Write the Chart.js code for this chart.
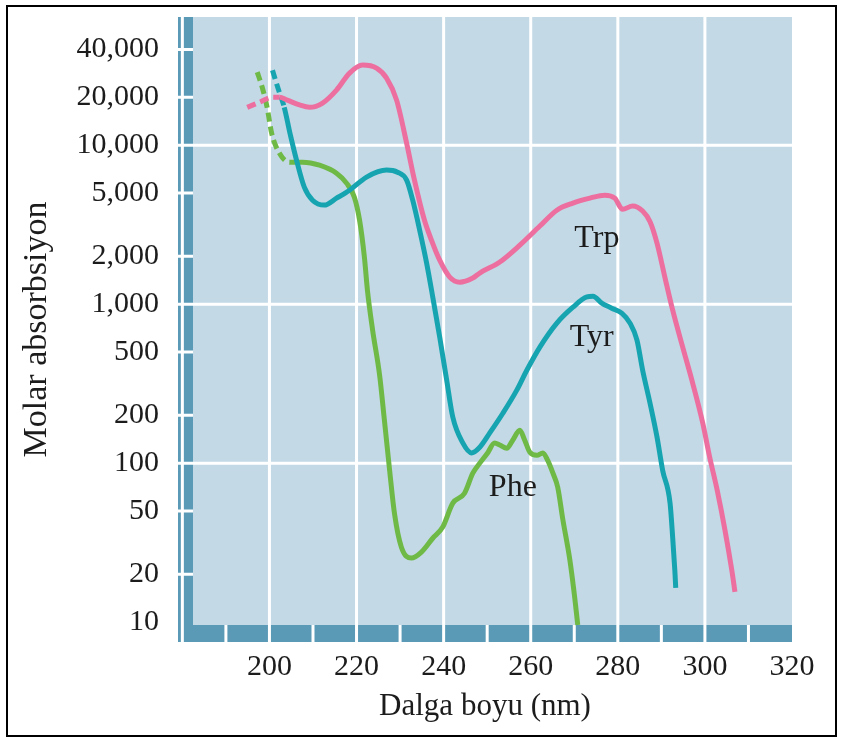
<!DOCTYPE html>
<html>
<head>
    <meta charset="utf-8">
    <title>Molar absorbsiyon</title>
    <style>
        body { margin: 0; background: #fff; }
        #chart { position: absolute; left: 0; top: 0; }
        .frame { position: absolute; left: 6px; top: 5px; width: 827px; height: 728px; border: 2px solid #000; pointer-events: none; }
    </style>
</head>
<body>
    <canvas id="chart" width="841" height="740"></canvas>
    <div class="frame"></div>

    <script src="https://cdn.jsdelivr.net/npm/chart.js@4"></script>
    <script>
        // values: wavelength (nm) -> molar absorption
        const trpNm  = [194.9, 197.7, 200.7, 202.3, 204.1, 206.9, 209.2, 212.2, 215.4, 218.4, 221.4, 224.6, 226.9, 229.2, 231.5, 233.3, 235.6, 237.2, 239.1, 241.4, 243.7, 246.7, 248.3, 252.9, 257.5, 262.1, 266.0, 269.7, 273.6, 277.0, 279.3, 281.1, 283.4, 285.7, 287.4, 289.0, 290.8, 292.6, 294.9, 297.2, 299.5, 301.1, 302.8, 304.6, 306.2, 306.9];
        const trpVal = [17300, 18600, 20000, 20000, 19200, 17900, 17300, 18400, 22200, 28400, 31900, 30500, 26400, 19200, 10300, 6030, 3370, 2530, 1890, 1480, 1375, 1460, 1570, 1840, 2350, 3100, 3900, 4320, 4640, 4850, 4640, 3950, 4150, 3850, 3300, 2420, 1480, 916, 537, 318, 179, 109, 68, 38, 21, 15.5];
        const trpDashEnd = 3;

        const tyrNm  = [200.7, 202.1, 203.4, 204.8, 206.4, 208.0, 209.9, 212.6, 215.4, 218.4, 222.3, 226.9, 229.4, 231.5, 232.9, 234.5, 236.1, 237.5, 239.1, 240.7, 242.1, 244.4, 246.4, 248.3, 250.6, 253.6, 256.8, 259.1, 262.1, 266.0, 269.7, 272.9, 274.3, 276.3, 278.6, 280.9, 282.8, 284.4, 285.7, 287.4, 289.0, 290.3, 292.0, 292.6, 293.1, 293.3];
        const tyrVal = [29600, 22200, 17300, 11600, 7700, 5450, 4510, 4200, 4640, 5210, 6300, 6970, 6760, 6030, 4510, 2920, 1810, 1110, 620, 333, 195, 134, 116, 126, 155, 206, 288, 384, 537, 760, 957, 1110, 1120, 1015, 944, 878, 760, 594, 384, 238, 146, 90, 56, 34, 21, 16.4];
        const tyrDashEnd = 2;

        const pheNm  = [197.2, 198.4, 199.5, 200.5, 202.3, 204.6, 207.6, 211.5, 215.4, 217.7, 219.5, 220.7, 221.8, 222.5, 223.7, 225.3, 226.4, 227.6, 228.7, 230.3, 232.6, 234.9, 237.5, 239.8, 242.1, 244.8, 246.7, 248.3, 250.1, 251.7, 252.9, 254.5, 255.9, 257.5, 258.6, 259.8, 261.4, 262.8, 263.9, 265.1, 266.2, 267.4, 269.0, 270.1, 270.8];
        const pheVal = [28800, 22800, 17100, 11900, 8900, 7820, 7820, 7480, 6660, 5770, 4710, 3370, 1980, 1225, 685, 357, 186, 90, 48.5, 29.6, 25.3, 27.6, 33.7, 39.6, 56, 64.7, 86.5, 100, 116, 134, 130, 124, 140, 161, 140, 117, 112, 116, 104, 86.5, 70.6, 43.8, 24.5, 14.3, 9.6];
        const pheDashEnd = 5;

        const xTicks = [180, 190, 200, 210, 220, 230, 240, 250, 260, 270, 280, 290, 300, 310, 320];
        const yTicks = [10, 20, 50, 100, 200, 500, 1000, 2000, 5000, 10000, 20000, 40000];

        // curve names written inside the plot
        const curveNames = ['Trp', 'Tyr', 'Phe'];
        const nameNm     = [275.2, 274.0, 255.9];
        const nameVal    = [2600, 620, 70.6];

        const LIGHT = '#c3d9e6';
        const DARK = '#5a9ab6';
        const TEXT = '#1c1c1c';
        const SERIF = '"Liberation Serif", "Times New Roman", serif';

        function points(nm, val) {
            return nm.map((x, i) => ({ x: x, y: val[i] }));
        }

        function curve(nm, val, color, dashEnd) {
            return {
                data: points(nm, val),
                borderColor: color,
                borderWidth: 5,
                pointRadius: 0,
                cubicInterpolationMode: 'monotone',
                borderJoinStyle: 'round',
                segment: {
                    borderDash: ctx => ctx.p1DataIndex <= dashEnd ? [9, 5] : undefined
                }
            };
        }

        // blue panel, dark axis bars and the white grid
        const panel = {
            id: 'panel',
            beforeDatasetsDraw(chart) {
                const { ctx, chartArea: a, scales: { x, y } } = chart;
                const barW = 15, barH = 17;
                ctx.save();
                ctx.fillStyle = LIGHT;
                ctx.fillRect(a.left, a.top, a.right - a.left, a.bottom - a.top);
                ctx.fillStyle = DARK;
                ctx.fillRect(a.left, a.top, barW, a.bottom - a.top);
                ctx.fillRect(a.left, a.bottom - barH, a.right - a.left, barH);

                ctx.strokeStyle = '#fff';
                ctx.lineWidth = 3;
                ctx.beginPath();
                xTicks.forEach(v => {
                    if (v <= x.min || v >= x.max) return;
                    const px = x.getPixelForValue(v);
                    const full = v % 20 === 0 && v <= 300;
                    ctx.moveTo(px, full ? a.top : a.bottom - barH);
                    ctx.lineTo(px, a.bottom);
                });
                yTicks.forEach(v => {
                    if (v <= 10) return;
                    const py = y.getPixelForValue(v);
                    const full = Number.isInteger(Math.log10(v));
                    ctx.moveTo(a.left, py);
                    ctx.lineTo(full ? a.right : a.left + barW, py);
                });
                ctx.stroke();
                ctx.restore();
            },
            afterDatasetsDraw(chart) {
                const { ctx, scales: { x, y } } = chart;
                ctx.save();
                ctx.font = '32px ' + SERIF;
                ctx.fillStyle = TEXT;
                ctx.textAlign = 'center';
                ctx.textBaseline = 'middle';
                curveNames.forEach((name, i) => {
                    ctx.fillText(name, x.getPixelForValue(nameNm[i]), y.getPixelForValue(nameVal[i]));
                });
                ctx.restore();
            }
        };

        new Chart(document.getElementById('chart'), {
            type: 'line',
            data: {
                datasets: [
                    curve(trpNm, trpVal, '#ec6f9f', trpDashEnd),
                    curve(tyrNm, tyrVal, '#17a4b1', tyrDashEnd),
                    curve(pheNm, pheVal, '#6fba47', pheDashEnd)
                ]
            },
            options: {
                responsive: false,
                animation: false,
                devicePixelRatio: 1,
                layout: { padding: { top: 17, right: 49, left: 0, bottom: 0 } },
                plugins: {
                    legend: { display: false },
                    tooltip: { enabled: false }
                },
                scales: {
                    x: {
                        type: 'linear',
                        min: 179,
                        max: 320,
                        grid: { display: false, drawTicks: false },
                        border: { display: false },
                        afterBuildTicks: s => { s.ticks = xTicks.map(v => ({ value: v })); },
                        afterFit: s => { s.height = 98; s.paddingLeft = 0; s.paddingRight = 0; },
                        ticks: {
                            autoSkip: false,
                            maxRotation: 0,
                            minRotation: 0,
                            padding: 7,
                            color: TEXT,
                            font: { family: SERIF, size: 30 },
                            callback: v => (v % 20 === 0 && v >= 200) ? String(v) : ''
                        },
                        title: {
                            display: true,
                            text: 'Dalga boyu (nm)',
                            color: TEXT,
                            font: { family: SERIF, size: 31 },
                            padding: { top: 0, bottom: 15 }
                        }
                    },
                    y: {
                        type: 'logarithmic',
                        min: 7.5,
                        max: 64000,
                        grid: { display: false, drawTicks: false },
                        border: { display: false },
                        afterBuildTicks: s => { s.ticks = yTicks.map(v => ({ value: v })); },
                        afterFit: s => { s.width = 178; s.paddingTop = 0; s.paddingBottom = 0; },
                        ticks: {
                            autoSkip: false,
                            padding: 19,
                            color: TEXT,
                            font: { family: SERIF, size: 30 },
                            callback: v => Number(v).toLocaleString('en-US')
                        },
                        title: {
                            display: true,
                            text: 'Molar absorbsiyon',
                            color: TEXT,
                            font: { family: SERIF, size: 34 },
                            padding: { top: 17, bottom: 0 }
                        }
                    }
                }
            },
            plugins: [panel]
        });
    </script>
</body>
</html>
